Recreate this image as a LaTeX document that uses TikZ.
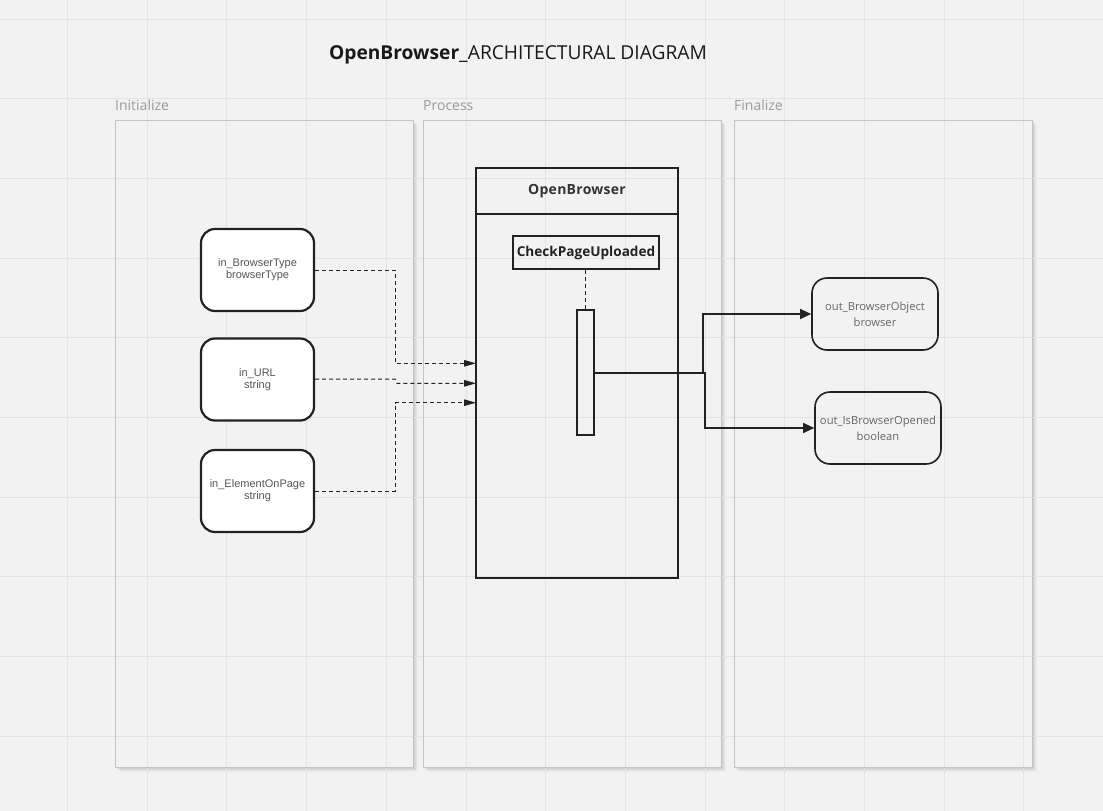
\documentclass[tikz,border=0pt]{standalone}
\usepackage{fontspec}
\setmainfont{Open Sans}
\newfontfamily\arialf{Liberation Sans}
\usetikzlibrary{arrows.meta}
\definecolor{bg}{HTML}{F2F2F2}
\definecolor{gridc}{HTML}{E3E3E3}
\definecolor{laneb}{HTML}{C4C4C4}
\definecolor{lanelbl}{HTML}{9A9A9A}
\definecolor{ink}{HTML}{222222}
\definecolor{intext}{HTML}{555555}
\definecolor{outtext}{HTML}{666666}
\tikzset{
  lanebox/.style={draw=laneb, line width=1pt},
  lanelabel/.style={anchor=base west, inner sep=0pt, text=lanelbl, font=\fontsize{14}{16}\selectfont},
  inbox/.style={draw=ink, line width=2.2pt, rounded corners=14pt, fill=white,
    minimum width=113pt, minimum height=82pt, align=center, inner sep=0pt,
    text=intext, font=\arialf\fontsize{11}{12}\selectfont},
  outbox/.style={draw=ink, line width=1.6pt, rounded corners=15pt,
    minimum width=126pt, minimum height=72pt, align=center, inner sep=0pt,
    text=outtext, font=\fontsize{11.2}{16}\selectfont},
  dasharrow/.style={draw=ink, line width=1pt, dash pattern=on 4pt off 3pt,
    -{Triangle[length=12pt,width=6.5pt]}},
  solidarrow/.style={draw=ink, line width=1.3pt, -{Triangle[length=11pt,width=10pt]}},
  framebox/.style={draw=ink, line width=2pt},
}
\begin{document}
\begin{tikzpicture}[x=1pt,y=-1pt]
\useasboundingbox (0,0) rectangle (1103,811);
\fill[bg] (0,0) rectangle (1103,811);
% lane shadows
\foreach \xa/\xb in {115/413,423/721,734/1032}{
  \foreach \d/\o in {1/0.06,2/0.05,3/0.04,4/0.03,5/0.02}{
    \fill[black,opacity=\o] (\xa+\d,120+\d) rectangle (\xb+\d,767+\d);
  }
  \fill[bg] (\xa,120) rectangle (\xb,767);
}
% grid
\foreach \k in {0,...,13}{
  \draw[gridc, line width=1pt] (67.5+79.7*\k,0) -- (67.5+79.7*\k,811);
}
\foreach \k in {0,...,9}{
  \draw[gridc, line width=1pt] (0,19+79.7*\k) -- (1103,19+79.7*\k);
}
% lanes
\draw[lanebox] (115,120) rectangle (413,767);
\draw[lanebox] (423,120) rectangle (721,767);
\draw[lanebox] (734,120) rectangle (1032,767);
\node[lanelabel] (linit) at (115,110) {Initialize};
\node[lanelabel] (lproc) at (423,110) {Process};
\node[lanelabel] (lfin) at (734,110) {Finalize};
% title
\node[anchor=base, inner sep=0pt, text=black!90, font=\fontsize{19.2}{23}\selectfont] (title) at (518,59)
  {\textbf{OpenBrowser}\_ARCHITECTURAL DIAGRAM};
% input nodes
\node[inbox] (bt) at (257.5,270) {in\_BrowserType\\browserType};
\node[inbox] (url) at (257.5,379.5) {in\_URL\\string};
\node[inbox] (eop) at (257.5,491) {in\_ElementOnPage\\string};
% OpenBrowser frame
\node[framebox, minimum width=202pt, minimum height=410pt, inner sep=0pt] (ob) at (577,373) {};
\draw[framebox] (476,214) -- (678,214);
\node[text=black!80, font=\bfseries\fontsize{14}{16}\selectfont\addfontfeature{LetterSpace=2}] (obh) at (577,191) {OpenBrowser};
\node[framebox, minimum width=146pt, minimum height=33pt, inner sep=0pt,
  text=ink, font=\bfseries\fontsize{13.6}{16}\selectfont] (cpu) at (586,252.5) {CheckPageUploaded};
\node[draw=ink, line width=1.5pt, minimum width=17pt, minimum height=125pt, inner sep=0pt] (act) at (585.5,372.5) {};
\draw[ink, line width=1pt, dash pattern=on 4pt off 3pt] (cpu.south -| act.north) -- (act.north);
% connector end points on the frame
\coordinate (in1) at (476,363.3);
\coordinate (in2) at (476,383.3);
\coordinate (in3) at (476,402.7);
\draw[dasharrow] (bt.east |- 0,270) -- (395,270) |- (in1);
\draw[dasharrow] (url.east |- 0,379) -- (395,379) -- (397,383.3) -- (in2);
\draw[dasharrow] (eop.east |- 0,491) -- (395,491) |- (in3);
% outputs
\node[outbox] (obj) at (875,314) {out\_BrowserObject\\browser};
\node[outbox] (isb) at (878,428) {out\_IsBrowserOpened\\boolean};
\coordinate (ao) at (594,373);
\draw[solidarrow] (ao) -- (703,373) |- (obj.west);
\draw[solidarrow] (ao) -- (705,373) |- (isb.west);
\end{tikzpicture}
\end{document}
